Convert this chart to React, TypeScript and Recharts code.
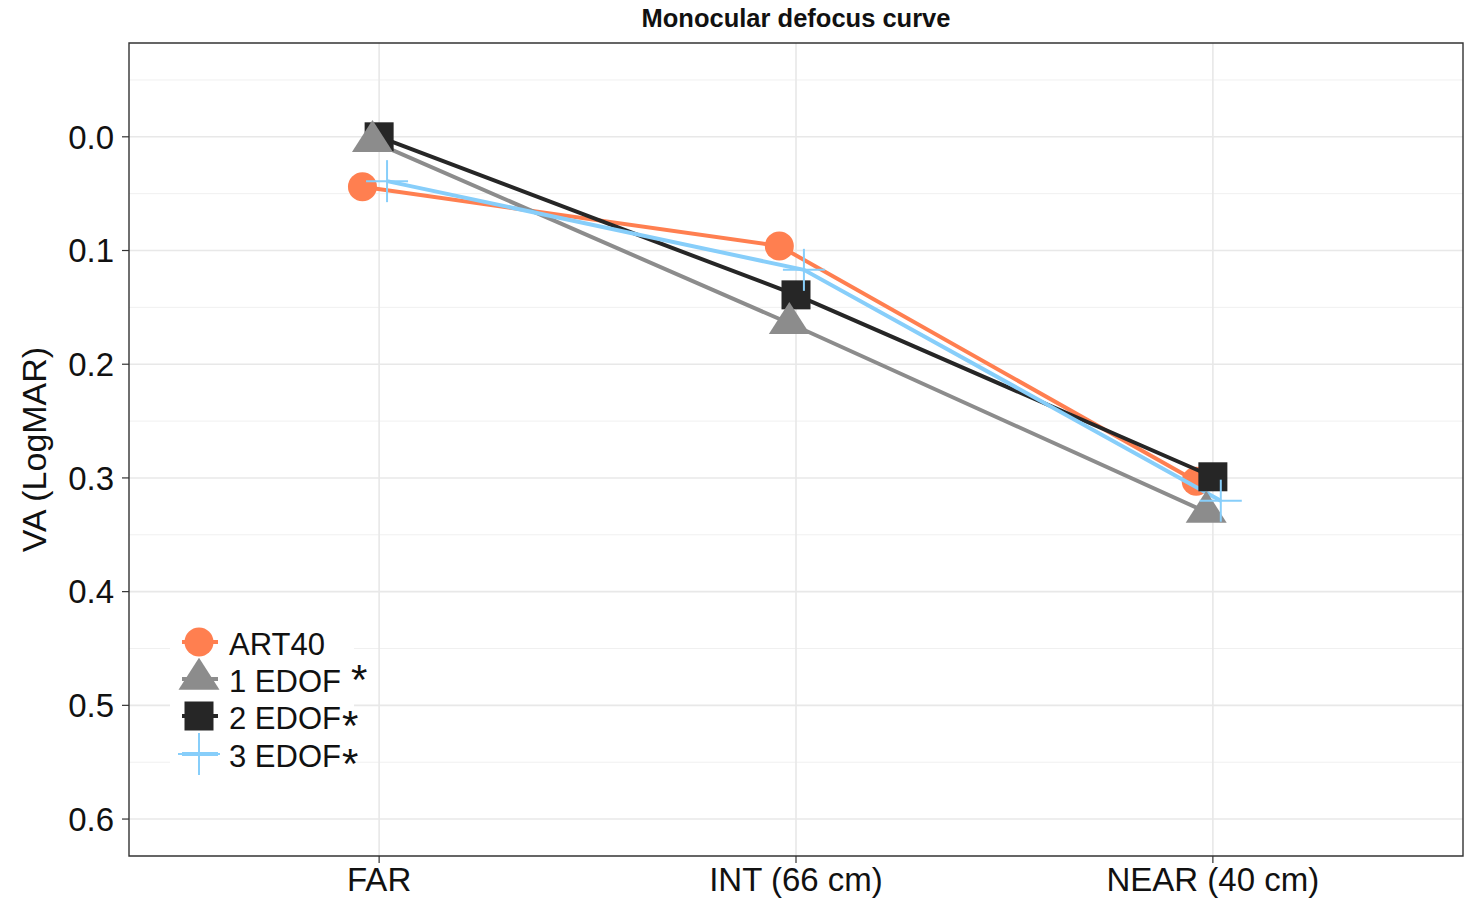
import React from 'react';
import {
  ComposedChart,
  Line,
  Scatter,
  XAxis,
  YAxis,
  CartesianGrid,
  ReferenceArea,
  Legend,
} from 'recharts';

const categories = ['FAR', 'INT (66 cm)', 'NEAR (40 cm)'];
const art40 = [0.044, 0.096, 0.303];
const edof1 = [0.004, 0.164, 0.33];
const edof2 = [0.0, 0.139, 0.299];
const edof3 = [0.039, 0.117, 0.32];
const yTicks = [0, 0.1, 0.2, 0.3, 0.4, 0.5, 0.6];
const yMinor = [-0.05, 0.05, 0.15, 0.25, 0.35, 0.45, 0.55];

const FONT = '"Liberation Sans", Arial, sans-serif';
const Y_DOMAIN: [number, number] = [-0.0825, 0.6325];
const X_DOMAIN: [number, number] = [-0.6, 2.6];
const LINE_W = 4;

type Shape = 'circle' | 'triangle' | 'square' | 'cross';

interface Series {
  name: string;
  values: number[];
  color: string;
  shape: Shape;
  dodge: number;
  star?: 'raised' | 'tight';
}

const series: Series[] = [
  { name: 'ART40', values: art40, color: '#FF7F50', shape: 'circle', dodge: -0.04 },
  { name: '1 EDOF', values: edof1, color: '#8C8C8C', shape: 'triangle', dodge: -0.016, star: 'raised' },
  { name: '2 EDOF', values: edof2, color: '#262626', shape: 'square', dodge: 0, star: 'tight' },
  { name: '3 EDOF', values: edof3, color: '#87CEFA', shape: 'cross', dodge: 0.019, star: 'tight' },
];

const toPoints = (s: Series) => s.values.map((y, i) => ({ x: i + s.dodge, y }));

const drawMark = (shape: Shape, color: string, cx: number, cy: number) => {
  switch (shape) {
    case 'circle':
      return <circle cx={cx} cy={cy} r={14.5} fill={color} />;
    case 'triangle': {
      const r = 21.3;
      const hw = 20.5;
      return (
        <polygon
          points={`${cx},${cy - r} ${cx + hw},${cy + r / 2} ${cx - hw},${cy + r / 2}`}
          fill={color}
        />
      );
    }
    case 'square':
      return <rect x={cx - 14.5} y={cy - 14.5} width={29} height={29} fill={color} />;
    case 'cross':
      return (
        <g stroke={color} strokeWidth={2}>
          <line x1={cx - 21} y1={cy} x2={cx + 21} y2={cy} />
          <line x1={cx} y1={cy - 21} x2={cx} y2={cy + 21} />
        </g>
      );
  }
};

const markShape = (s: Series) => (props: any) => {
  if (props.cx == null || props.cy == null) return <g />;
  return drawMark(s.shape, s.color, props.cx, props.cy);
};

const LegendBox = () => {
  const rows = [18, 55, 92, 130];
  return (
    <svg width={184} height={153} style={{ display: 'block', overflow: 'visible' }}>
      {series.map((s, i) => (
        <g key={s.name}>
          <line x1={12} y1={rows[i]} x2={48} y2={rows[i]} stroke={s.color} strokeWidth={LINE_W} />
          {drawMark(s.shape, s.color, 29, rows[i])}
          <text x={59} y={rows[i] + 13} fontFamily={FONT} fontSize={31} fill="#111">
            {s.name}
            {s.star === 'raised' && (
              <tspan dx={10} dy={2} fontSize={42}>*</tspan>
            )}
            {s.star === 'tight' && (
              <tspan dx={1} dy={11} fontSize={42}>*</tspan>
            )}
          </text>
        </g>
      ))}
    </svg>
  );
};

const YLabel = (props: any) => {
  const vb = props.viewBox || { y: 43, height: 813 };
  const cy = vb.y + vb.height / 2;
  return (
    <text
      x={46}
      y={cy}
      transform={`rotate(-90 46 ${cy})`}
      textAnchor="middle"
      fontFamily={FONT}
      fontSize={34}
      fill="#111"
    >
      VA (LogMAR)
    </text>
  );
};

export default function App() {
  const rest = [series[1], series[2], series[3]];
  return (
    <div style={{ position: 'absolute', left: 0, top: 0, width: 1464, height: 902, background: '#fff' }}>
      <div
        style={{
          position: 'absolute',
          left: 129,
          top: 3,
          width: 1334,
          textAlign: 'center',
          fontFamily: FONT,
          fontWeight: 'bold',
          fontSize: 25.5,
          lineHeight: '30px',
          color: '#111',
          zIndex: 2,
        }}
      >
        Monocular defocus curve
      </div>
      <ComposedChart width={1464} height={902} margin={{ top: 43, right: 1, bottom: 0, left: 0 }}>
        <CartesianGrid
          horizontalValues={yMinor}
          vertical={false}
          stroke="#f0f0f0"
          strokeWidth={1}
        />
        <CartesianGrid
          horizontalValues={yTicks}
          verticalValues={[0, 1, 2]}
          stroke="#e8e8e8"
          strokeWidth={1.6}
        />
        <XAxis
          type="number"
          dataKey="x"
          domain={X_DOMAIN}
          allowDataOverflow
          ticks={[0, 1, 2]}
          tickFormatter={(v: number) => categories[Math.round(v)] ?? ''}
          height={46}
          tickSize={7}
          tickMargin={5}
          axisLine={false}
          tickLine={{ stroke: '#333', strokeWidth: 1.2 }}
          tick={{ fontSize: 33, fill: '#111', fontFamily: FONT }}
          interval={0}
        />
        <YAxis
          type="number"
          dataKey="y"
          domain={Y_DOMAIN}
          allowDataOverflow
          reversed
          ticks={yTicks}
          tickFormatter={(v: number) => v.toFixed(1)}
          width={129}
          tickSize={7}
          tickMargin={8}
          axisLine={false}
          tickLine={{ stroke: '#333', strokeWidth: 1.2 }}
          tick={{ fontSize: 33, fill: '#111', fontFamily: FONT }}
          interval={0}
          label={{ content: YLabel }}
        />

        {/* ART40 first: the other lines pass over its marks */}
        <Line
          data={toPoints(series[0])}
          dataKey="y"
          type="linear"
          stroke={series[0].color}
          strokeWidth={LINE_W}
          dot={false}
          activeDot={false}
          isAnimationActive={false}
          zIndex={400}
        />
        <Scatter
          data={toPoints(series[0])}
          dataKey="y"
          shape={markShape(series[0])}
          isAnimationActive={false}
          zIndex={410}
        />
        {rest.map((s) => (
          <Line
            key={`line-${s.name}`}
            data={toPoints(s)}
            dataKey="y"
            type="linear"
            stroke={s.color}
            strokeWidth={LINE_W}
            dot={false}
            activeDot={false}
            isAnimationActive={false}
            zIndex={420}
          />
        ))}
        {[series[2], series[1], series[3]].map((s, i) => (
          <Scatter
            key={`pts-${s.name}`}
            data={toPoints(s)}
            dataKey="y"
            shape={markShape(s)}
            isAnimationActive={false}
            zIndex={430 + i}
          />
        ))}

        <ReferenceArea
          x1={X_DOMAIN[0]}
          x2={X_DOMAIN[1]}
          y1={Y_DOMAIN[0]}
          y2={Y_DOMAIN[1]}
          fill="none"
          stroke="#333"
          strokeWidth={1.4}
          ifOverflow="visible"
          zIndex={500}
        />

        <Legend
          layout="vertical"
          align="center"
          verticalAlign="middle"
          content={() => <LegendBox />}
          wrapperStyle={{
            left: 170,
            top: 624,
            width: 184,
            height: 153,
            background: '#fff',
            overflow: 'visible',
          }}
        />
      </ComposedChart>
    </div>
  );
}
